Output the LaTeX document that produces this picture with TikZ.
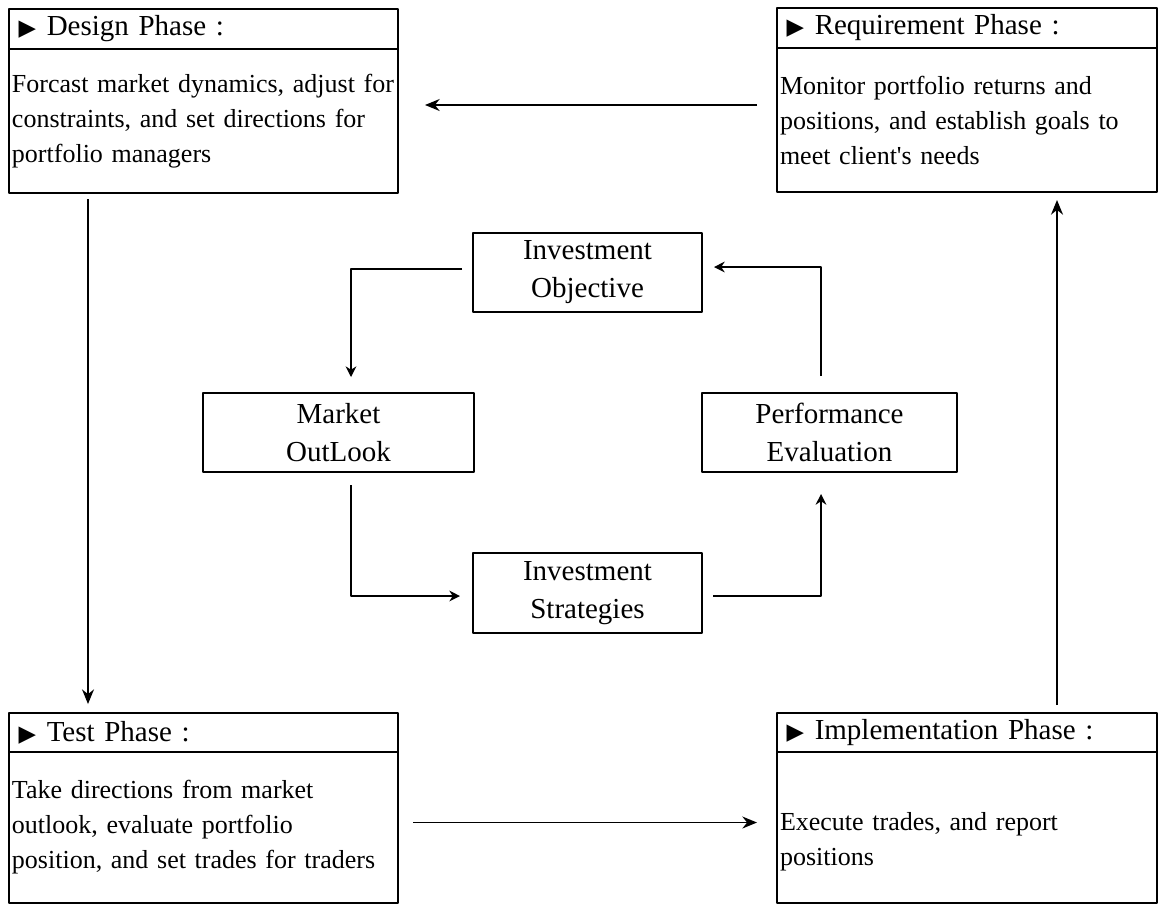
\documentclass[tikz,border=0pt]{standalone}
\usepackage{fontspec}
\setmainfont{Liberation Serif}[Ligatures=TeXOff]
\newfontfamily\symfont{DejaVu Sans}
\usetikzlibrary{arrows.meta,positioning,calc}
\tikzset{
  phasehead/.style={draw,line width=2.1pt,outer sep=0pt,anchor=north west,inner xsep=2.25pt,inner ysep=0pt,align=left,font=\fontsize{21.75}{26}\selectfont},
  phasebody/.style={draw,line width=2.1pt,outer sep=0pt,anchor=north west,inner xsep=2.25pt,inner ysep=0pt,align=left,font=\fontsize{19.5}{26.25}\selectfont},
  stage/.style={draw,line width=2.1pt,outer sep=0pt,inner sep=0pt,align=center,font=\fontsize{21.75}{28.5}\selectfont},
  flow/.style={-{Stealth[length=8pt,width=8pt]},line width=1.1pt},
  bigflow/.style={-{Stealth[length=11pt,width=9pt]},line width=1.1pt},
}
\newcommand{\phasemark}{\hspace*{5pt}{\symfont\fontsize{17}{17}\selectfont ▶}\hspace{8pt}}
\begin{document}
\begin{tikzpicture}[x=0.75pt,y=-0.75pt,>=Stealth,line join=round]
	\useasboundingbox (0,0) rectangle (1159,915);
	% phase boxes
	\node[phasehead,text width=287.25pt,minimum height=30pt] (desh) at (9,9) {\phasemark Design Phase :};
	\node[phasebody,text width=287.25pt,minimum height=108pt] (desb) at (desh.south west) {Forcast market dynamics, adjust for\\constraints, and set directions for\\portfolio managers};
	\node[phasehead,text width=280.5pt,minimum height=30pt] (reqh) at (777,8) {\phasemark Requirement Phase :};
	\node[phasebody,text width=280.5pt,minimum height=108pt] (reqb) at (reqh.south west) {Monitor portfolio returns and\\positions, and establish goals to\\meet client's needs};
	\node[phasehead,text width=287.25pt,minimum height=29.25pt] (testh) at (9,713) {\phasemark Test Phase :};
	\node[phasebody,text width=287.25pt,minimum height=113.25pt] (testb) at (testh.south west) {Take directions from market\\outlook, evaluate portfolio\\position, and set trades for traders};
	\node[phasehead,text width=280.5pt,minimum height=29.25pt] (imph) at (777,713) {\phasemark Implementation Phase :};
	\node[phasebody,text width=280.5pt,minimum height=113.25pt] (impb) at (imph.south west) {\\[8pt]Execute trades, and report\\positions};
	% cycle in the middle
	\node[stage,minimum width=171.75pt,minimum height=59.25pt] (io) at (587.5,272.5) {Investment\\Objective};
	\node[stage,minimum width=203.25pt,minimum height=59.25pt] (mo) at (338.5,432.5) {Market\\OutLook};
	\node[stage,minimum width=191.25pt,minimum height=59.25pt] (pe) at (829.5,432.5) {Performance\\Evaluation};
	\node[stage,minimum width=171.75pt,minimum height=60pt] (is) at (587.5,593) {Investment\\Strategies};
	\draw[flow] ($(io.west)+(-11,-3.5)$) -| ($(mo.north)+(12.5,-16)$);
	\draw[flow] ($(mo.south)+(12.5,13)$) |- ($(is.west)+(-13,3)$);
	\draw[flow] ($(is.east)+(11,3)$) -| ($(pe.south)+(-8.5,22)$);
	\draw[flow] ($(pe.north)+(-8.5,-17)$) |- ($(io.east)+(12,-5.5)$);
	% outer loop
	\draw[bigflow] ($(reqb.west)+(-20,-15)$) -- ($(desb.east)+(27,-16)$);
	\draw[bigflow] ($(desb.south)+(-115.5,6)$) -- ($(testh.north)+(-115.5,-9)$);
	\draw[bigflow] ($(testb.east)+(15,-5)$) -- ($(impb.west)+(-20,-5)$);
	\draw[bigflow] ($(imph.north)+(90,-8)$) -- ($(reqb.south)+(90,8)$);
\end{tikzpicture}
\end{document}
